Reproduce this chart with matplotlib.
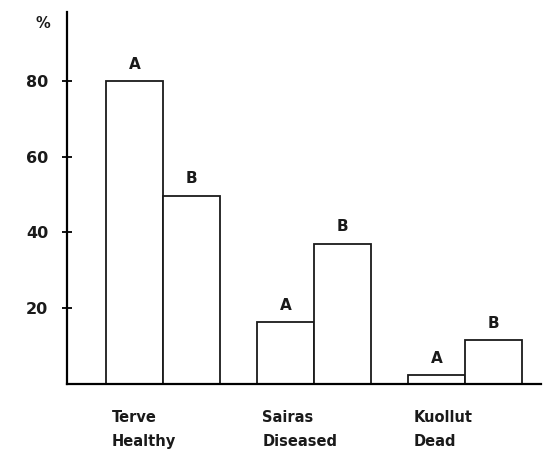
import matplotlib
matplotlib.use("Agg")
import matplotlib.pyplot as plt
import numpy as np

categories_fi = ["Terve", "Sairas", "Kuollut"]
categories_en = ["Healthy", "Diseased", "Dead"]
series_names = ["A", "B"]
values_a = [80, 16.3, 2.2]
values_b = [49.7, 37, 11.4]
yticks = [20, 40, 60, 80]

fig = plt.figure(figsize=(5.49, 4.5), dpi=100)
ax = fig.add_axes([67/549, 1-383.5/450, (541-67)/549, (383.5-12)/450])

x = np.arange(len(categories_fi))
w = 0.377
for vals, off, name in [(values_a, -w/2, series_names[0]), (values_b, w/2, series_names[1])]:
    ax.bar(x + off, vals, width=w, facecolor="white", edgecolor="#1a1a1a", linewidth=1.3)
    for xi, v in zip(x + off, vals):
        ax.text(xi, v + 2.5, name, ha="center", va="bottom", fontsize=11, fontweight="bold", color="#1a1a1a")

ax.set_xlim(-0.636, 2.503)
ax.set_ylim(0, 98.4)
ax.spines["top"].set_visible(False)
ax.spines["right"].set_visible(False)
ax.spines["left"].set_linewidth(1.6)
ax.spines["bottom"].set_linewidth(1.6)
ax.set_xticks([])
ax.set_yticks(yticks)
ax.set_yticklabels([str(t) for t in yticks], fontsize=11.5, fontweight="bold", color="#1a1a1a")
ax.tick_params(axis="y", direction="inout", length=7, width=1.3, pad=10)
ax.text(-0.035, 0.97, "%", transform=ax.transAxes, ha="right", va="center", fontsize=10.5, fontweight="bold", color="#1a1a1a")

for xi, fi, en in zip(x, categories_fi, categories_en):
    ax.text(xi - w + 0.035, -8.9, fi, ha="left", va="center", fontsize=10.5, fontweight="bold", color="#1a1a1a")
    ax.text(xi - w + 0.035, -15.3, en, ha="left", va="center", fontsize=10.5, fontweight="bold", color="#1a1a1a")

fig.savefig("out.png", dpi=100)
